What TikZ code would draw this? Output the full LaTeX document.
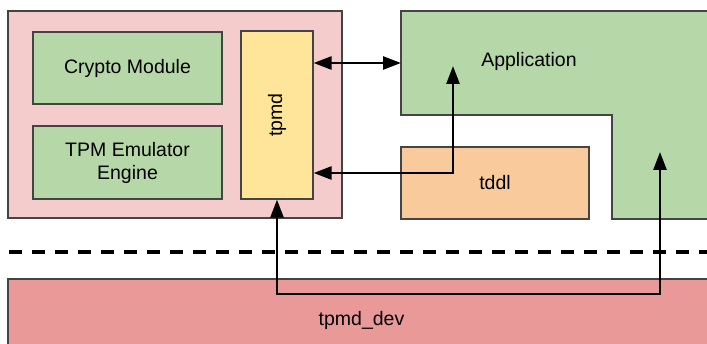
\documentclass[tikz,border=0pt]{standalone}
\usepackage{fontspec}
\setmainfont{Liberation Sans}
\usetikzlibrary{positioning,arrows.meta}
\definecolor{emupink}{HTML}{F4CCCC}
\definecolor{devpink}{HTML}{EA9999}
\definecolor{modgreen}{HTML}{B6D7A8}
\definecolor{tpmdyellow}{HTML}{FFE599}
\definecolor{tddlorange}{HTML}{F9CB9C}
\definecolor{edge}{HTML}{444444}
\tikzset{
	box/.style={draw=edge, line width=1.2pt, inner sep=0pt, align=center,
		font=\fontsize{19.5}{23}\selectfont},
	label/.style={inner sep=0pt, font=\fontsize{19.5}{23}\selectfont},
	link/.style={line width=2.6pt, {Triangle[length=18pt,width=13pt]}-{Triangle[length=18pt,width=13pt]}}
}
\begin{document}
\begin{tikzpicture}[x=1pt,y=-1pt]
	\useasboundingbox (0,0) rectangle (707,344);
	\clip (0,0) rectangle (707,344);
	% emulator side
	\node (emu) at (175,114.5) [box, fill=emupink, minimum width=334pt, minimum height=207pt] {};
	\node (crypto) at (127.5,68) [box, fill=modgreen, minimum width=189pt, minimum height=72pt] {Crypto Module};
	\node (engine) at (127.5,162.5) [box, fill=modgreen, minimum width=189pt, minimum height=73pt] {TPM Emulator\\Engine};
	\node (tpmd) at (277,115) [box, fill=tpmdyellow, minimum width=72pt, minimum height=168pt] {};
	\node at (tpmd.center) [label, rotate=90] {tpmd};
	% application and library
	\draw[draw=edge, line width=1.2pt, fill=modgreen] (401,11) -- (720,11) -- (720,219) -- (612,219) -- (612,115) -- (401,115) -- cycle;
	\node (app) at (529,61) [label] {Application};
	\node (tddl) at (495,183) [box, fill=tddlorange, minimum width=188pt, minimum height=72pt] {tddl};
	% kernel side
	\draw[line width=3.3pt, dash pattern=on 13pt off 10pt] (9,252) -- (707,252);
	\node (dev) at (361.5,320) [box, fill=devpink, minimum width=707pt, minimum height=82pt] {tpmd\_dev};
	% connections
	\coordinate (appin) at (401,63);
	\coordinate (appup) at (453,66);
	\coordinate (tddlin) at (453,173);
	\coordinate (devl) at (277,294);
	\coordinate (devr) at (660,294);
	\coordinate (appdn) at (660,152);
	\draw[link] (tpmd.east |- appin) -- (appin);
	\draw[link] (tpmd.east |- tddlin) -- (tddlin) -- (appup);
	\draw[link] (tpmd.south) -- (devl) -- (devr) -- (appdn);
\end{tikzpicture}
\end{document}
